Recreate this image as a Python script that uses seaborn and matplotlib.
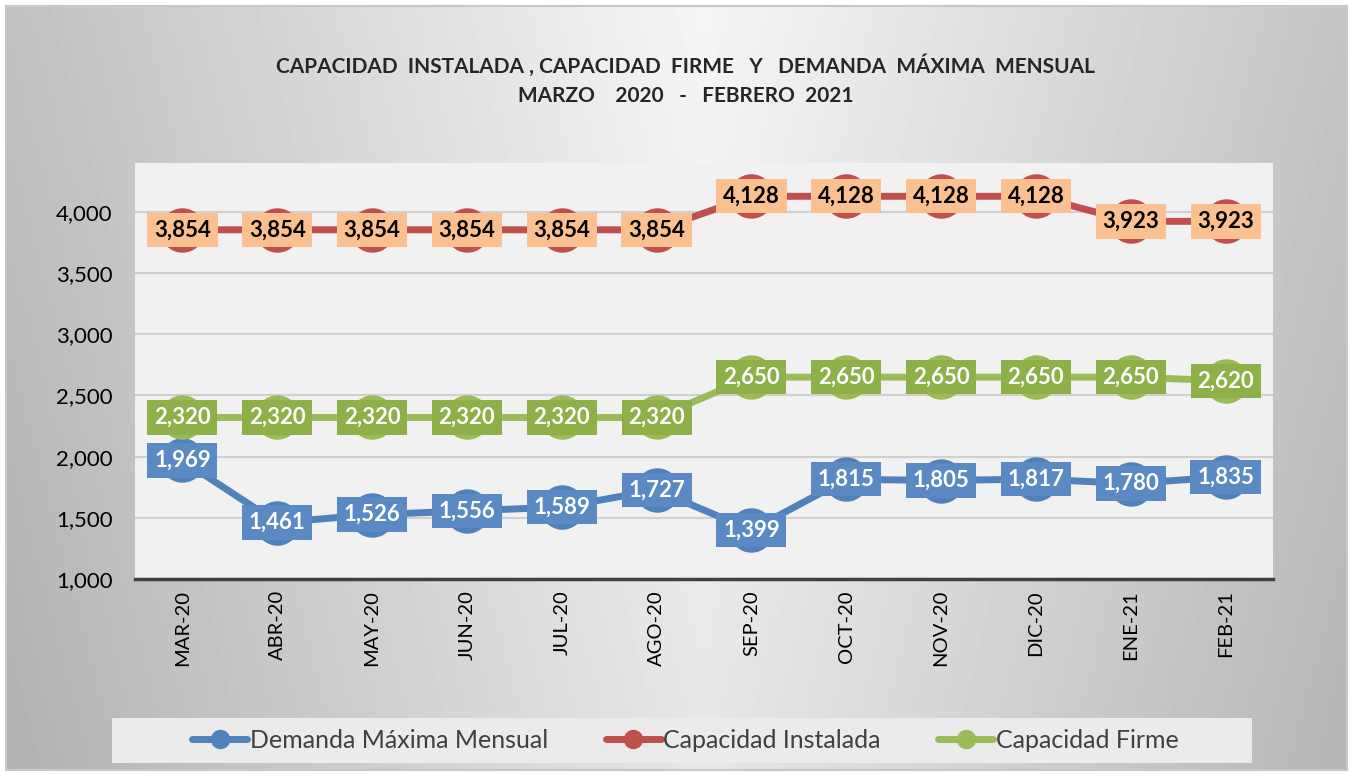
import matplotlib
matplotlib.use("Agg")
import matplotlib.pyplot as plt
import matplotlib.ticker as mticker
from matplotlib.lines import Line2D
from matplotlib.patches import Rectangle
import numpy as np
import pandas as pd
import seaborn as sns

# Datos
meses = ['MAR-20', 'ABR-20', 'MAY-20', 'JUN-20', 'JUL-20', 'AGO-20',
         'SEP-20', 'OCT-20', 'NOV-20', 'DIC-20', 'ENE-21', 'FEB-21']
demanda = [1969, 1461, 1526, 1556, 1589, 1727, 1399, 1815, 1805, 1817, 1780, 1835]
instalada = [3854, 3854, 3854, 3854, 3854, 3854, 4128, 4128, 4128, 4128, 3923, 3923]
firme = [2320, 2320, 2320, 2320, 2320, 2320, 2650, 2650, 2650, 2650, 2650, 2620]

series = ['Demanda Máxima Mensual', 'Capacidad Instalada', 'Capacidad Firme']

df = pd.DataFrame({
    'idx': list(range(len(meses))) * 3,
    'valor': demanda + instalada + firme,
    'serie': [series[0]] * 12 + [series[1]] * 12 + [series[2]] * 12,
})

colores = {series[0]: '#4F81BD', series[1]: '#C0504D', series[2]: '#9BBB59'}
cajas = {series[0]: ('#5B89C4', 'white'), series[1]: ('#FAC090', 'black'),
         series[2]: ('#8DB048', 'white')}

sns.set_style('white')
plt.rcParams['font.family'] = ['Lato', 'DejaVu Sans']

fig = plt.figure(figsize=(13.52, 7.76), dpi=100)
fig.patch.set_facecolor('white')

# Fondo con degradado
bg = fig.add_axes([6 / 1352, 6 / 776, 1341 / 1352, 764 / 776])
gx = np.linspace(0, 1, 300)
gy = np.linspace(0, 1, 200)
X, Y = np.meshgrid(gx, gy)
Z = 0.965 - 0.20 * np.abs(X - 0.52) * 2 - 0.06 * Y
bg.imshow(Z, cmap='gray', vmin=0, vmax=1, aspect='auto', extent=[0, 1, 0, 1], origin='upper')
bg.set_xticks([])
bg.set_yticks([])
for s in bg.spines.values():
    s.set_color('#c8c8c8')
    s.set_linewidth(1.5)

ax = fig.add_axes([135 / 1352, 1 - 579 / 776, 1138 / 1352, 416 / 776])
ax.set_facecolor('#f1f1f1')

sns.lineplot(data=df, x='idx', y='valor', hue='serie', hue_order=series,
             palette=colores, marker='o', markersize=32, markeredgewidth=0,
             linewidth=5, legend=False, ax=ax, zorder=3)

# Etiquetas de datos
for nombre, valores in zip(series, [demanda, instalada, firme]):
    fc, tc = cajas[nombre]
    for i, v in enumerate(valores):
        ax.text(i, v, f'{v:,}', ha='center', va='center', fontsize=16,
                fontweight='bold', color=tc, zorder=5,
                bbox=dict(boxstyle='square,pad=0.3', fc=fc, ec='none'))

ax.set_xlim(-0.5, len(meses) - 0.5)
ax.set_ylim(1000, 4400)
ax.yaxis.set_major_locator(mticker.MultipleLocator(500))
ax.yaxis.set_major_formatter(mticker.StrMethodFormatter('{x:,.0f}'))
ax.set_xticks(range(len(meses)))
ax.set_xticklabels(meses, rotation=90, fontsize=14.5, color='black')
ax.set_xticks(np.arange(-0.5, len(meses), 1), minor=True)
ax.tick_params(axis='x', which='major', length=0, pad=8)
ax.tick_params(axis='x', which='minor', length=6, width=2.5, color='#404040', direction='out')
ax.tick_params(axis='y', length=0, labelsize=16, pad=16, labelcolor='black')
ax.set_xlabel('')
ax.set_ylabel('')
ax.yaxis.grid(True, color='#d0d0d0', linewidth=1.5)
ax.set_axisbelow(True)
for lado in ['left', 'right', 'top']:
    ax.spines[lado].set_visible(False)
ax.spines['bottom'].set_color('#404040')
ax.spines['bottom'].set_linewidth(2.5)

# Titulo
fig.text(0.507, 1 - 66 / 776,
         'CAPACIDAD  INSTALADA , CAPACIDAD  FIRME   Y   DEMANDA  MÁXIMA  MENSUAL',
         ha='center', va='center', fontsize=15, fontweight='bold')
fig.text(0.507, 1 - 96 / 776, 'MARZO    2020   -   FEBRERO  2021',
         ha='center', va='center', fontsize=15, fontweight='bold')

# Leyenda
fig.patches.append(Rectangle((112 / 1352, 1 - 763 / 776), 1140 / 1352, 45 / 776,
                             transform=fig.transFigure, fc='#ebebeb', ec='none', zorder=1))
handles = [Line2D([], [], color=colores[s], lw=5, marker='o', markersize=14,
                  markeredgewidth=0) for s in series]
leg = fig.legend(handles, series, loc='center', bbox_to_anchor=(0.507, 1 - 740 / 776),
                 ncol=3, frameon=False, fontsize=18, handlelength=2.2,
                 handletextpad=0.1, columnspacing=2.3)
for t in leg.get_texts():
    t.set_color('#404040')

fig.savefig('out.png', dpi=100, facecolor=fig.get_facecolor())
